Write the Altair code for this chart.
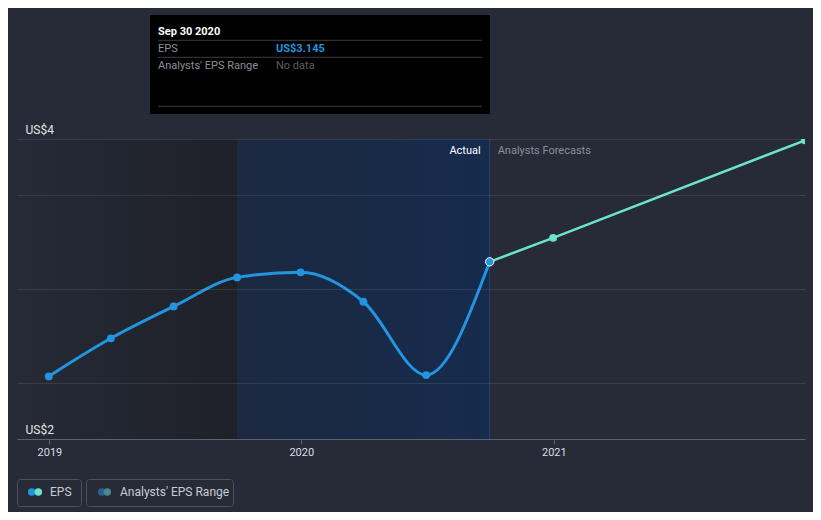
import altair as alt
import pandas as pd

FONT = "Roboto"

# ---------------- data ----------------
actual_dates = ["2018-12-31", "2019-03-31", "2019-06-30", "2019-09-30",
                "2019-12-31", "2020-03-31", "2020-06-30", "2020-09-30"]
actual_eps = [2.534, 2.737, 2.907, 3.062, 3.089, 2.932, 2.541, 3.145]

forecast_dates = ["2020-09-30", "2020-12-31", "2021-12-31"]
forecast_eps = [3.145, 3.273, 3.793]

region_past_start = ["2018-11-15"]
region_past_end = ["2019-09-30"]
region_recent_start = ["2019-09-30"]
region_recent_end = ["2020-09-30"]
today = ["2020-09-30"]

y_grid_values = [2.2, 2.5, 3.0, 3.5, 3.8]
y_label_low, y_label_high = "US$2", "US$4"
label_actual = "Actual"
label_forecast = "Analysts Forecasts"

tip_title = "Sep 30 2020"
tip_row_names = ["EPS", "Analysts' EPS Range"]
tip_row_values = ["US$3.145", "No data"]

legend_labels = ["EPS", "Analysts' EPS Range"]

# ---------------- tables ----------------
df_actual = pd.DataFrame({"date": actual_dates, "eps": actual_eps})
df_forecast = pd.DataFrame({"date": forecast_dates, "eps": forecast_eps})
df_past = pd.DataFrame({"start": region_past_start, "end": region_past_end})
df_recent = pd.DataFrame({"start": region_recent_start, "end": region_recent_end})
df_today = pd.DataFrame({"date": today})

BLUE = "#2394df"
TEAL = "#6ce4cb"
BG = "#262b37"

x_scale = alt.Scale(type="utc", domain=[
    alt.DateTime(year=2018, month=11, date=15, utc=True),
    alt.DateTime(year=2021, month=12, date=31, utc=True)])
y_scale = alt.Scale(domain=[2.2, 3.8], nice=False, zero=False)

x_axis = alt.Axis(
    values=[alt.DateTime(year=y, month=1, date=1, utc=True) for y in (2019, 2020, 2021)],
    format="%Y", grid=False, domain=True, domainColor="#5c616c", domainWidth=1,
    ticks=True, tickColor="#5c616c", tickSize=5, labelColor="#d9dce1",
    labelFontSize=11, labelPadding=2, labelFont=FONT, labelFlush=False, zindex=1,
    title=None)
y_axis = alt.Axis(
    values=y_grid_values, grid=True, gridColor="rgba(255,255,255,0.10)", gridWidth=1,
    domain=False, ticks=False,
    labelExpr=f"datum.value >= 3.79 ? '{y_label_high}' : (datum.value <= 2.21 ? '{y_label_low}' : '')",
    labelAlign="left", labelBaseline="alphabetic", labelPadding=-8, labelOffset=-6,
    labelColor="#e2e5ea", labelFontSize=12, labelFont=FONT, labelFlush=False,
    labelOverlap=False, labelBound=False, zindex=1, title=None)

X = alt.X("date:T", scale=x_scale, axis=x_axis)
Y = alt.Y("eps:Q", scale=y_scale, axis=y_axis)


def grad(c0, c1):
    return alt.Gradient(gradient="linear",
                        stops=[alt.GradientStop(color=c0, offset=0),
                               alt.GradientStop(color=c1, offset=1)],
                        x1=0, x2=1, y1=0, y2=0)


past = alt.Chart(df_past).mark_rect(color=grad("#252a35", "#1e2128")).encode(
    x=alt.X("start:T", scale=x_scale, axis=x_axis), x2="end:T")
recent = alt.Chart(df_recent).mark_rect(color=grad("#1c2940", "#162b4d")).encode(
    x=alt.X("start:T", scale=x_scale, axis=x_axis), x2="end:T")
today_rule = alt.Chart(df_today).mark_rule(color="#22426a", strokeWidth=1).encode(
    x=alt.X("date:T", scale=x_scale, axis=x_axis))

actual_line = alt.Chart(df_actual).mark_line(
    color=BLUE, strokeWidth=3, interpolate="monotone").encode(x=X, y=Y)
actual_pts = alt.Chart(df_actual.iloc[:-1]).mark_circle(
    color=BLUE, size=62, opacity=1).encode(x=X, y=Y)
fc_line = alt.Chart(df_forecast).mark_line(
    color=TEAL, strokeWidth=2.5, interpolate="monotone", clip=True).encode(x=X, y=Y)
fc_pts = alt.Chart(df_forecast.iloc[1:]).mark_circle(
    color=TEAL, size=62, opacity=1, clip=True).encode(x=X, y=Y)
cur_pt = alt.Chart(df_actual.iloc[-1:]).mark_point(
    filled=True, fill=BLUE, stroke="#ffffff", strokeWidth=1, size=70, opacity=1).encode(x=X, y=Y)

lab_actual = alt.Chart(df_today.assign(t=label_actual)).mark_text(
    align="right", baseline="middle", dx=-9, color="#ffffff", fontSize=11, font=FONT).encode(
    x=alt.X("date:T", scale=x_scale, axis=x_axis), y=alt.value(12), text="t:N")
lab_fc = alt.Chart(df_today.assign(t=label_forecast)).mark_text(
    align="left", baseline="middle", dx=8, color="#8a8f99", fontSize=11, font=FONT).encode(
    x=alt.X("date:T", scale=x_scale, axis=x_axis), y=alt.value(12), text="t:N")

one = pd.DataFrame({"k": [0]})


def txt(text, x, y, color, size=11, weight="normal", align="left"):
    return alt.Chart(pd.DataFrame({"t": [text]})).mark_text(
        align=align, baseline="middle", color=color, fontSize=size,
        fontWeight=weight, font=FONT).encode(x=alt.value(x), y=alt.value(y), text="t:N")


def box(x, x2, y, y2, fill, stroke=None, radius=0):
    kw = dict(fill=fill, cornerRadius=radius)
    if stroke:
        kw.update(stroke=stroke, strokeWidth=1)
    return alt.Chart(one).mark_rect(**kw).encode(
        x=alt.value(x), x2=alt.value(x2), y=alt.value(y), y2=alt.value(y2))


def hline(x, x2, y, color):
    return alt.Chart(one).mark_rule(color=color, strokeWidth=1).encode(
        x=alt.value(x), x2=alt.value(x2), y=alt.value(y))


def dot(x, y, color, size=56):
    return alt.Chart(one).mark_circle(color=color, size=size, opacity=1).encode(
        x=alt.value(x), y=alt.value(y))


# tooltip panel
tip = [
    box(133, 473, -124, -25, "#000000"),
    txt(tip_title, 141, -107.5, "#ffffff", 11, "bold"),
    hline(141, 465, -98.7, "#3a3d44"),
    txt(tip_row_names[0], 141, -90.5, "#8b9099"),
    txt(tip_row_values[0], 259, -90.5, BLUE, 11, "bold"),
    hline(141, 465, -81.7, "#3a3d44"),
    txt(tip_row_names[1], 141, -73.5, "#8b9099"),
    txt(tip_row_values[1], 259, -73.5, "#5a5f67"),
    hline(141, 465, -32.7, "#3a3d44"),
]

# legend
legend = [
    box(0.5, 64.5, 340.5, 367.5, BG, "#4c515c", 3),
    dot(14.7, 353, BLUE),
    dot(21.3, 353, TEAL),
    txt(legend_labels[0], 33, 353, "#c9cdd3", 12),
    box(69.5, 216.5, 340.5, 367.5, BG, "#4c515c", 3),
    dot(84.7, 353, "#2a5f8f"),
    dot(90.3, 353, "#4a8a8c"),
    txt(legend_labels[1], 103, 353, "#c9cdd3", 12),
]

chart = alt.layer(
    past, recent, today_rule, actual_line, fc_line, actual_pts, fc_pts, cur_pt,
    lab_actual, lab_fc, *tip, *legend
).properties(
    width=788, height=300,
    autosize=alt.AutoSizeParams(type="none"),
    padding={"left": 9, "top": 131, "right": 8, "bottom": 73},
    background=BG,
).configure_view(strokeWidth=0)

chart.save("out.html", embed_options={"renderer": "svg", "actions": False})
